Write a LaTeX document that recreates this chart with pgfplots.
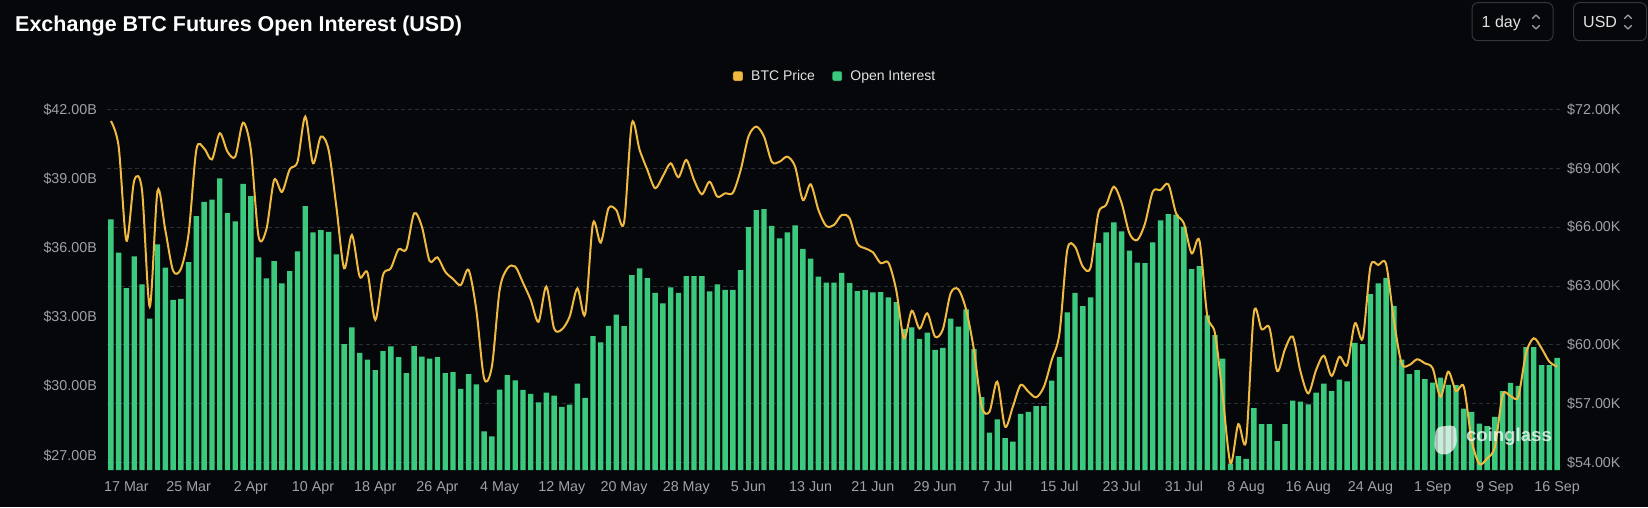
\documentclass[border=0pt]{standalone}
\usepackage{pgfplots}
\pgfplotsset{compat=1.18}
\usepackage{pgfplotstable}
\usepackage{fontspec}
\setmainfont{Liberation Sans}
\newfontfamily\tickfont{Liberation Sans}
\definecolor{bg}{HTML}{05070B}
\definecolor{oigreen}{RGB}{59,202,125}
\definecolor{btcyellow}{RGB}{240,186,64}
\definecolor{gridc}{HTML}{2A2E35}
\definecolor{tickgray}{HTML}{9EA2A9}
\definecolor{legtext}{HTML}{E2E2E2}
\definecolor{btnborder}{HTML}{33363C}

\pgfplotstableread{
i oi
0 37.23
1 35.78
2 34.25
3 35.62
4 34.41
5 32.92
6 36.14
7 35.13
8 33.74
9 33.78
10 35.37
11 37.37
12 37.99
13 38.08
14 39.00
15 37.50
16 37.14
17 38.77
18 38.24
19 35.58
20 34.67
21 35.42
22 34.45
23 34.98
24 35.84
25 37.80
26 36.66
27 36.76
28 36.69
29 35.71
30 31.82
31 32.54
32 31.44
33 31.15
34 30.69
35 31.51
36 31.72
37 31.25
38 30.56
39 31.73
40 31.28
41 31.19
42 31.25
43 30.56
44 30.60
45 29.88
46 30.52
47 30.07
48 28.03
49 27.82
50 29.85
51 30.47
52 30.25
53 29.83
54 29.66
55 29.29
56 29.72
57 29.59
58 29.10
59 29.20
60 30.11
61 29.49
62 32.16
63 31.89
64 32.61
65 33.10
66 32.60
67 34.81
68 35.10
69 34.68
70 34.04
71 33.58
72 34.28
73 34.04
74 34.77
75 34.77
76 34.77
77 34.10
78 34.41
79 34.17
80 34.17
81 35.03
82 36.89
83 37.63
84 37.67
85 36.94
86 36.40
87 36.66
88 36.97
89 35.95
90 35.53
91 34.75
92 34.48
93 34.48
94 34.91
95 34.46
96 34.12
97 34.16
98 34.06
99 34.07
100 33.84
101 33.64
102 32.47
103 32.54
104 32.05
105 32.32
106 31.57
107 31.66
108 32.92
109 32.58
110 33.32
111 31.60
112 29.52
113 27.98
114 28.55
115 27.74
116 27.59
117 28.79
118 28.88
119 29.13
120 29.13
121 30.24
122 31.25
123 33.20
124 34.04
125 33.47
126 33.84
127 36.20
128 36.66
129 37.10
130 36.71
131 35.87
132 35.35
133 35.33
134 36.23
135 37.18
136 37.46
137 37.43
138 36.91
139 35.07
140 35.20
141 33.07
142 32.21
143 31.19
144 26.64
145 26.96
146 26.84
147 29.04
148 28.35
149 28.35
150 27.61
151 28.35
152 29.37
153 29.33
154 29.21
155 29.71
156 30.11
157 29.78
158 30.28
159 30.20
160 31.87
161 31.82
162 33.99
163 34.45
164 34.69
165 33.48
166 31.15
167 30.52
168 30.69
169 30.30
170 30.15
171 30.37
172 30.05
173 30.04
174 29.02
175 28.88
176 28.37
177 28.26
178 28.66
179 29.78
180 30.14
181 30.01
182 31.69
183 31.69
184 30.91
185 30.91
186 31.22
}\oidata

\pgfplotstableread{
i price
0 71.40
1 70.10
2 65.31
3 68.37
4 67.89
5 61.95
6 67.84
7 65.85
8 63.78
9 63.87
10 65.68
11 69.96
12 70.00
13 69.45
14 70.78
15 69.84
16 69.59
17 71.32
18 69.93
19 65.51
20 65.89
21 68.40
22 67.79
23 68.94
24 69.33
25 71.63
26 69.25
27 70.61
28 69.93
29 67.04
30 63.90
31 65.60
32 63.48
33 63.68
34 61.27
35 63.56
36 63.90
37 64.87
38 64.87
39 66.70
40 66.02
41 64.27
42 64.46
43 63.73
44 63.36
45 63.05
46 63.82
47 61.78
48 58.30
49 58.89
50 62.80
51 63.90
52 63.99
53 63.17
54 62.29
55 61.18
56 62.97
57 60.84
58 60.79
59 61.44
60 62.88
61 61.57
62 66.19
63 65.21
64 66.96
65 66.87
66 66.23
67 71.29
68 69.93
69 68.91
70 67.98
71 68.60
72 69.25
73 68.54
74 69.42
75 68.40
76 67.67
77 68.31
78 67.55
79 67.72
80 67.75
81 68.91
82 70.61
83 71.12
84 70.61
85 69.33
86 69.33
87 69.59
88 69.08
89 67.38
90 68.18
91 66.87
92 66.06
93 66.11
94 66.62
95 66.45
96 65.17
97 64.92
98 64.72
99 64.16
100 64.19
101 62.80
102 60.34
103 61.74
104 60.83
105 61.61
106 60.42
107 60.79
108 62.63
109 62.83
110 61.78
111 59.74
112 56.85
113 56.60
114 58.13
115 55.84
116 56.85
117 57.96
118 57.62
119 57.33
120 57.87
121 59.23
122 60.59
123 64.83
124 65.00
125 63.99
126 63.95
127 66.70
128 67.13
129 68.06
130 67.21
131 65.68
132 65.34
133 66.19
134 67.81
135 67.89
136 68.18
137 66.70
138 66.19
139 64.66
140 65.31
141 61.52
142 60.59
143 57.36
144 53.97
145 55.97
146 55.11
147 61.64
148 60.79
149 60.88
150 58.67
151 59.78
152 60.42
153 58.64
154 57.53
155 58.72
156 59.45
157 58.42
158 59.40
159 58.98
160 61.10
161 60.34
162 63.99
163 64.07
164 64.12
165 61.27
166 59.06
167 58.98
168 59.27
169 59.06
170 58.81
171 57.36
172 58.64
173 57.65
174 57.87
175 55.16
176 53.94
177 54.22
178 54.82
179 57.45
180 57.40
181 57.36
182 59.57
183 60.34
184 59.83
185 59.15
186 58.89
}\pricedata

\pgfplotsset{
  basebox/.style={
    at={(107pt,37pt)}, anchor=south west,
    scale only axis, width=1454pt, height=360.7pt,
    xmin=-0.5, xmax=186.5,
    major tick length=0pt,
    axis line style={draw=none},
    ticklabel style={font=\tickfont\fontsize{14.3}{16}\selectfont, text=tickgray, inner sep=0pt},
  },
}

\begin{document}
\begin{tikzpicture}[x=1pt,y=1pt]
\useasboundingbox (0,0) rectangle (1648,507);
\fill[bg] (0,0) rectangle (1648,507);

% title
\node[anchor=base west, inner sep=0pt, text=white, font=\fontsize{21.5}{24}\selectfont\bfseries] at (15,475.3) {Exchange BTC Futures Open Interest (USD)};

% selector buttons
\draw[btnborder, line width=1pt, rounded corners=6pt] (1472,466.3) rectangle (1553,504.3);
\node[anchor=base west, inner sep=0pt, text=legtext, font=\fontsize{16}{18}\selectfont] at (1481.5,479.5) {1 day};
\draw[tickgray, line width=1.1pt, line cap=round, line join=round] (1532.5,488.5) -- (1536,492) -- (1539.5,488.5);
\draw[tickgray, line width=1.1pt, line cap=round, line join=round] (1532.5,481.5) -- (1536,478) -- (1539.5,481.5);
\draw[btnborder, line width=1pt, rounded corners=6pt] (1573.5,466.3) rectangle (1646.5,504.3);
\node[anchor=base west, inner sep=0pt, text=legtext, font=\fontsize{16}{18}\selectfont] at (1583,479.5) {USD};
\draw[tickgray, line width=1.1pt, line cap=round, line join=round] (1624.5,488.5) -- (1628,492) -- (1631.5,488.5);
\draw[tickgray, line width=1.1pt, line cap=round, line join=round] (1624.5,481.5) -- (1628,478) -- (1631.5,481.5);

% right axis: grid and price tick labels
\begin{axis}[basebox,
  axis x line=none, axis y line*=right,
  ymin=53.63, ymax=72,
  ytick={54,57,60,63,66,69,72},
  yticklabels={\$54.00K,\$57.00K,\$60.00K,\$63.00K,\$66.00K,\$69.00K,\$72.00K},
  yticklabel style={anchor=west, xshift=6pt},
  ymajorgrids,
  grid style={gridc, line width=0.9pt, dash pattern=on 4pt off 3pt},
]
\end{axis}

% left axis: open interest bars
\begin{axis}[basebox,
  axis x line*=bottom, axis y line*=left,
  ymin=26.36, ymax=42,
  ytick={27,30,33,36,39,42},
  yticklabels={\$27.00B,\$30.00B,\$33.00B,\$36.00B,\$39.00B,\$42.00B},
  yticklabel style={anchor=east, xshift=-10pt},
  xtick={2,10,18,26,34,42,50,58,66,74,82,90,98,106,114,122,130,138,146,154,162,170,178,186},
  xticklabels={17 Mar,25 Mar,2 Apr,10 Apr,18 Apr,26 Apr,4 May,12 May,20 May,28 May,5 Jun,13 Jun,21 Jun,29 Jun,7 Jul,15 Jul,23 Jul,31 Jul,8 Aug,16 Aug,24 Aug,1 Sep,9 Sep,16 Sep},
  xticklabel style={anchor=base, yshift=-21.7pt},
]
\addplot[ybar, bar width=5.4pt, fill=oigreen, draw=none] table[x=i, y=oi] {\oidata};
\end{axis}

% right axis: BTC price line + legend
\begin{axis}[basebox,
  hide axis,
  ymin=53.63, ymax=72,
  legend style={at={(axis description cs:0.5,1.092)}, anchor=center,
    draw=none, fill=none, text=legtext,
    font=\fontsize{14}{16}\selectfont,
    inner sep=0pt, nodes={inner sep=0pt},
    /tikz/every odd column/.append style={column sep=0pt},
    /tikz/every even column/.append style={column sep=17pt}},
  legend columns=2,
  legend image code/.code={\fill[#1, rounded corners=1.5pt] (0pt,-5pt) rectangle (10pt,5pt); \path (18pt,0pt);},
]
\addlegendimage{fill=btcyellow}
\addlegendentry{BTC Price}
\addlegendimage{fill=oigreen}
\addlegendentry{Open Interest}
\addplot[btcyellow, line width=2pt, smooth, tension=0.5, forget plot] table[x=i, y=price] {\pricedata};
\end{axis}

% watermark
\fill[white, opacity=0.7, rounded corners=5pt] (1434,58) -- (1436,80) -- (1456,82) -- (1457,62) -- (1450,53) -- (1440,52) -- cycle;
\node[anchor=center, inner sep=0pt, text=white, opacity=0.75, font=\fontsize{18.6}{20}\selectfont\bfseries] at (1509,70) {coinglass};
\end{tikzpicture}
\end{document}
